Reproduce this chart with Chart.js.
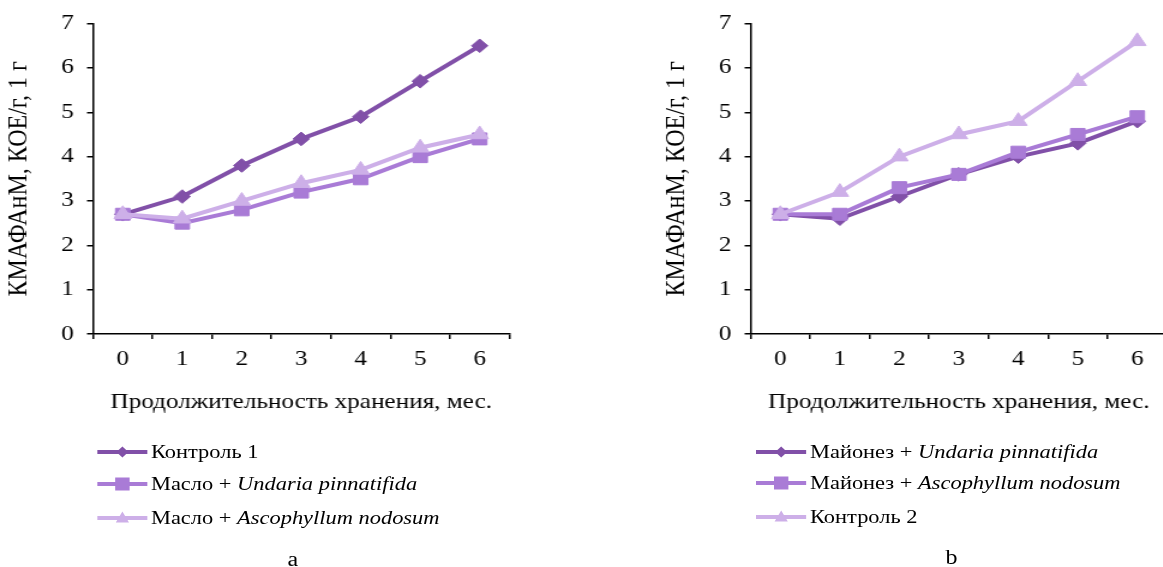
<!DOCTYPE html>
<html>
<head>
<meta charset="utf-8">
<script src="https://cdn.jsdelivr.net/npm/chart.js@4/dist/chart.umd.min.js"></script>
<style>
  html, body { margin:0; padding:0; width:1163px; height:567px; overflow:hidden; background:#fff; }
  body { position:relative; font-family:"Liberation Serif","Times New Roman",serif; color:#000; }
  #stage { position:absolute; left:0; top:0; width:970px; height:567px; transform:scaleX(1.2); transform-origin:0 0; }
  .box { position:absolute; }
  .row { position:absolute; white-space:nowrap; display:flex; align-items:center; height:26px; font-size:18.7px; }
  .row svg { display:block; margin-right:3px; }
  .cap { position:absolute; font-size:20px; transform:translate(-50%,-50%); }
</style>
</head>
<body>
<div id="stage">
  <div class="box" style="left:0px; top:0px; width:434px; height:430px;"><canvas id="chartA"></canvas></div>
  <div class="box" style="left:548px; top:0px; width:434px; height:430px;"><canvas id="chartB"></canvas></div>
  <div id="legendA"></div>
  <div id="legendB"></div>
  <div class="cap" style="left:244px; top:559px;">a</div>
  <div class="cap" style="left:793px; top:557px;">b</div>
</div>
<script>
// ---- data ----
const months = ['0', '1', '2', '3', '4', '5', '6'];
const yTicks = [0, 1, 2, 3, 4, 5, 6, 7];

const control1       = [2.7, 3.1, 3.8, 4.4, 4.9, 5.7, 6.5];
const oilUndaria     = [2.7, 2.5, 2.8, 3.2, 3.5, 4.0, 4.4];
const oilAscophyllum = [2.7, 2.6, 3.0, 3.4, 3.7, 4.2, 4.5];

const mayoUndaria     = [2.7, 2.6, 3.1, 3.6, 4.0, 4.3, 4.8];
const mayoAscophyllum = [2.7, 2.7, 3.3, 3.6, 4.1, 4.5, 4.9];
const control2        = [2.7, 3.2, 4.0, 4.5, 4.8, 5.7, 6.6];

const yTitle = 'КМАФАнМ, КОЕ/г, 1 г';
const xTitle = 'Продолжительность хранения, мес.';

// ---- styles ----
const DARK = '#8150a8', MID = '#a97bd6', LIGHT = '#cdafe8';
const FONT = '"Liberation Serif", "Times New Roman", serif';
Chart.defaults.font.family = FONT;
Chart.defaults.font.size = 21;
Chart.defaults.color = '#000';

function ds(label, data, color, style, radius, order) {
  return {
    label, data, order,
    borderColor: color, backgroundColor: color,
    borderWidth: 4,
    pointStyle: style, pointRadius: radius, pointHoverRadius: radius,
    pointBackgroundColor: color, pointBorderColor: color, pointBorderWidth: 1,
    tension: 0, fill: false
  };
}

function makeChart(id, datasets) {
  return new Chart(document.getElementById(id), {
    type: 'line',
    data: { labels: months, datasets },
    options: {
      responsive: true, maintainAspectRatio: false, animation: false,
      layout: { padding: { top: 23, right: 4, bottom: 0, left: 0 } },
      plugins: { legend: { display: false }, tooltip: { enabled: false } },
      scales: {
        x: {
          offset: true,
          grid: { display: true, offset: true, drawOnChartArea: false, drawTicks: true, tickLength: 5, color: '#000', lineWidth: 1.5 },
          border: { display: true, color: '#000', width: 1.5 },
          ticks: { padding: 8, maxRotation: 0, font: { size: 21 } },
          title: { display: true, text: xTitle, font: { size: 21 }, padding: { top: 0, bottom: 15 } },
          afterFit: (s) => { s.height = 96; }
        },
        y: {
          min: 0, max: 7,
          afterBuildTicks: (s) => { s.ticks = yTicks.map(v => ({ value: v })); },
          grid: { display: true, drawOnChartArea: false, drawTicks: true, tickLength: 5, color: '#000', lineWidth: 1.5 },
          border: { display: true, color: '#000', width: 1.5 },
          ticks: { padding: 11, font: { size: 21 } },
          title: { display: true, text: yTitle, font: { size: 24 }, padding: { top: 1.5, bottom: 0 } },
          afterFit: (s) => { s.width = 77.5; }
        }
      }
    }
  });
}

makeChart('chartA', [
  ds('Контроль 1', control1, DARK, 'rectRot', 6.8, 3),
  ds('Масло + Undaria pinnatifida', oilUndaria, MID, 'rect', 8.5, 2),
  ds('Масло + Ascophyllum nodosum', oilAscophyllum, LIGHT, 'triangle', 8.5, 1)
]);
makeChart('chartB', [
  ds('Майонез + Undaria pinnatifida', mayoUndaria, DARK, 'rectRot', 6.8, 3),
  ds('Майонез + Ascophyllum nodosum', mayoAscophyllum, MID, 'rect', 8.5, 2),
  ds('Контроль 2', control2, LIGHT, 'triangle', 8.5, 1)
]);

// ---- HTML legends (mixed upright / italic text) ----
function marker(style, color) {
  let shape = '';
  if (style === 'rectRot') shape = `<polygon points="16,10 21,4.5 26,10 21,15.5" fill="${color}"/>`;
  else if (style === 'rect') shape = `<rect x="15" y="3.5" width="12" height="13" fill="${color}"/>`;
  else shape = `<polygon points="21,3.5 26.5,14.5 15.5,14.5" fill="${color}"/>`;
  return `<svg width="42" height="20" viewBox="0 0 42 20"><line x1="0" y1="10" x2="42" y2="10" stroke="${color}" stroke-width="4"/>${shape}</svg>`;
}
function legend(id, left, tops, items) {
  const el = document.getElementById(id);
  items.forEach((it, i) => {
    const r = document.createElement('div');
    r.className = 'row';
    r.style.left = left + 'px';
    r.style.top = (tops[i] - 13) + 'px';
    r.innerHTML = marker(it.style, it.color) + `<span>${it.text}${it.italic ? '<i>' + it.italic + '</i>' : ''}</span>`;
    el.appendChild(r);
  });
}
legend('legendA', 80.8, [452, 484, 518], [
  { style: 'rectRot', color: DARK, text: 'Контроль 1' },
  { style: 'rect', color: MID, text: 'Масло + ', italic: 'Undaria pinnatifida' },
  { style: 'triangle', color: LIGHT, text: 'Масло + ', italic: 'Ascophyllum nodosum' }
]);
legend('legendB', 630, [452, 483, 517], [
  { style: 'rectRot', color: DARK, text: 'Майонез + ', italic: 'Undaria pinnatifida' },
  { style: 'rect', color: MID, text: 'Майонез + ', italic: 'Ascophyllum nodosum' },
  { style: 'triangle', color: LIGHT, text: 'Контроль 2' }
]);
</script>
</body>
</html>
